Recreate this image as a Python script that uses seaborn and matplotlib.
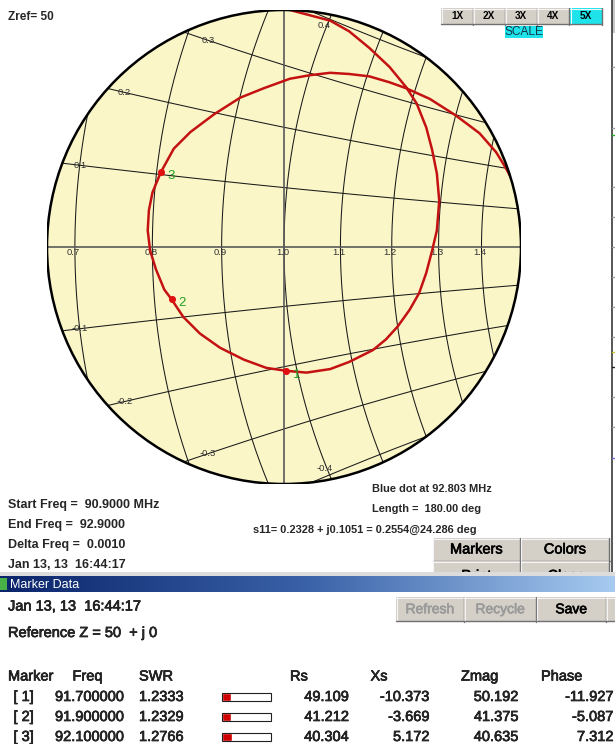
import numpy as np
import pandas as pd
import matplotlib
matplotlib.use("Agg")
import matplotlib.pyplot as plt
import matplotlib.patheffects as pe
import seaborn as sns
from matplotlib.patches import Circle, Rectangle
from matplotlib.colors import LinearSegmentedColormap

# sweep settings
z_ref = 50
start_freq = 90.9
end_freq = 92.9
delta_freq = 0.0010
timestamp = "Jan 13, 13  16:44:17"
zoom_levels = ["1X", "2X", "3X", "4X", "5X"]
active_zoom = "5X"

# marker table
marker_ids = [1, 2, 3]
marker_freq = [91.7, 91.9, 92.1]
marker_swr = [1.2333, 1.2329, 1.2766]
marker_rs = [49.109, 41.212, 40.304]
marker_xs = [-10.373, -3.669, 5.172]
marker_zmag = [50.192, 41.375, 40.635]
marker_phase = [-11.927, -5.087, 7.312]

# s11 trace (reflection coefficient)
gamma_re = [-0.020, 0.005, 0.039, 0.055, 0.072, 0.089, 0.103, 0.112, 0.120, 0.125,
            0.129, 0.131, 0.129, 0.125, 0.120, 0.114, 0.106, 0.096, 0.086, 0.075,
            0.055, 0.039, 0.019, 0.002, -0.015, -0.034, -0.054, -0.071, -0.085, -0.095,
            -0.101, -0.108, -0.113, -0.115, -0.114, -0.111, -0.104, -0.093, -0.079, -0.059,
            -0.037, -0.017, 0.005, 0.022, 0.039, 0.055, 0.072, 0.089, 0.103, 0.123,
            0.145, 0.165, 0.179, 0.187, 0.195]
gamma_im = [0.206, 0.200, 0.191, 0.182, 0.168, 0.152, 0.135, 0.121, 0.101, 0.082,
            0.062, 0.039, 0.014, -0.003, -0.022, -0.039, -0.053, -0.067, -0.078, -0.087,
            -0.097, -0.103, -0.106, -0.1045, -0.102, -0.095, -0.085, -0.073, -0.059, -0.044,
            -0.036, -0.019, -0.003, 0.014, 0.031, 0.046, 0.063, 0.083, 0.097, 0.112,
            0.126, 0.134, 0.142, 0.145, 0.147, 0.146, 0.144, 0.139, 0.134, 0.125,
            0.111, 0.096, 0.080, 0.067, 0.052]

# grid of the zoomed chart
r_circles = [0.7, 0.8, 0.9, 1.0, 1.1, 1.2, 1.3, 1.4]
x_arcs = [0.1, 0.2, 0.3, 0.4]
view_radius = 0.2

sns.set_theme(style="white")
plt.rcParams["font.family"] = ["Liberation Sans", "DejaVu Sans"]

W, H = 615, 744
fig = plt.figure(figsize=(W / 100, H / 100), dpi=100)
fig.patch.set_facecolor("white")

# pixel-space layer for the window furniture
ui = fig.add_axes([0, 0, 1, 1], zorder=0)
ui.set_axis_off()

# smith chart layer
ax = fig.add_axes([47 / W, (H - 484) / H, 474 / W, 474 / H], zorder=1)
ax.set_axis_off()
ax.patch.set_visible(False)

disc = Circle((0, 0), view_radius, facecolor="#FAF6C8", edgecolor="none", zorder=0)
ax.add_patch(disc)


def to_gamma(z):
    return (z - 1) / (z + 1)


grid_kw = dict(color="#1a1a1a", lw=0.75, zorder=1)
axis_kw = dict(color="#5a5a5a", lw=1.2, zorder=1)

t = np.linspace(-0.8, 0.8, 400)
for r in r_circles:
    g = to_gamma(r + 1j * t)
    ln, = ax.plot(g.real, g.imag, **grid_kw)
    ln.set_clip_path(disc)
    ax.annotate(f"{r:.1f}", (to_gamma(r), 0), xytext=(-1, -4.3), textcoords="offset points",
                ha="center", va="center", fontsize=6.8, color="#333333", zorder=2)

rr = np.linspace(0.3, 3.0, 600)
for x in x_arcs + [-v for v in x_arcs]:
    g = to_gamma(rr + 1j * x)
    ln, = ax.plot(g.real, g.imag, **grid_kw)
    ln.set_clip_path(disc)

# real and imaginary axes of the zoom window
ax.plot([-view_radius, view_radius], [0, 0], **axis_kw)
ax.plot([0, 0], [-view_radius, view_radius], **axis_kw)

label_r = {0.1: 0.70, 0.2: 0.74, 0.3: 0.83, 0.4: 0.99}
label_shift = {0.1: 0, 0.2: 0, 0.3: 0, 0.4: 6.5}
for x in x_arcs:
    for sgn, txt in [(1, f"{x:.1f}"), (-1, f"-{x:.1f}")]:
        g = to_gamma(label_r[x] + 1j * sgn * x)
        ax.annotate(txt, (g.real, g.imag), xytext=(0, -sgn * label_shift[x]),
                    textcoords="offset points", ha="center", va="center",
                    fontsize=6.8, color="#333333", zorder=2)

# s11 trace
trace = pd.DataFrame({"re": gamma_re, "im": gamma_im})
n_before = len(ax.lines)
sns.lineplot(data=trace, x="re", y="im", sort=False, estimator=None,
             color="#C41212", lw=1.8, ax=ax, zorder=3)
for ln in ax.lines[n_before:]:
    ln.set_clip_path(disc)

# markers
zm = (np.array(marker_rs) + 1j * np.array(marker_xs)) / z_ref
gm = to_gamma(zm)
mk = pd.DataFrame({"re": gm.real, "im": gm.imag})
sns.scatterplot(data=mk, x="re", y="im", color="#E01010", s=26, linewidth=0, ax=ax, zorder=4)
for mid, gre, gim in zip(marker_ids, gm.real, gm.imag):
    ax.annotate(str(mid), (gre, gim), xytext=(7.2, -2.9),
                textcoords="offset points", ha="center", va="center",
                fontsize=9.5, color="#22A022", zorder=5)

ax.add_patch(Circle((0, 0), view_radius, fill=False, edgecolor="black", lw=1.8, zorder=6))
ax.set_xlim(-view_radius, view_radius)
ax.set_ylim(-view_radius, view_radius)
ax.set_xlabel("")
ax.set_ylabel("")

# slightly heavier strokes, like the old bitmap UI font
heavy = [pe.withStroke(linewidth=0.45, foreground="black")]
heavy_grey = [pe.withStroke(linewidth=0.45, foreground="#9A9A9A")]


# window furniture
def button(x0, y0, x1, y1, label, face="#D4D0C8", color="black", size=10, weight="normal",
           ty=None, va="center", z=2, effects=None):
    ui.add_patch(Rectangle((x0, y0), x1 - x0, y1 - y0, facecolor=face, edgecolor="none", zorder=z))
    ui.plot([x0, x1], [y0 + 0.5, y0 + 0.5], color="#F4F4F4", lw=0.8, zorder=z)
    ui.plot([x0 + 0.5, x0 + 0.5], [y0, y1], color="#F4F4F4", lw=0.8, zorder=z)
    ui.plot([x0, x1], [y1 - 0.5, y1 - 0.5], color="#707070", lw=1.0, zorder=z)
    ui.plot([x1 - 0.5, x1 - 0.5], [y0, y1], color="#707070", lw=1.0, zorder=z)
    ui.text((x0 + x1) / 2, (y0 + y1) / 2 if ty is None else ty, label, ha="center", va=va,
            fontsize=size, color=color, weight=weight, zorder=z + 0.1, path_effects=effects)


ui.text(8, 17, f"Zref= {z_ref}", fontsize=8.5, weight="bold", va="center")

centers = [457, 489, 521, 553, 586]
for cx, lab in zip(centers, zoom_levels):
    face = "#1FE3EA" if lab == active_zoom else "#D4D0C8"
    button(cx - 16, 8, cx + 16, 24.5, lab, face=face, size=7.2, weight="bold")
ui.add_patch(Rectangle((505, 26), 38, 11.5, facecolor="#1FE3EA", edgecolor="none"))
ui.text(524, 32, "SCALE", ha="center", va="center", fontsize=8.6, color="#103848")

# right frame with tick marks
ui.plot([611.5, 611.5], [0, 572], color="#3a3a3a", lw=1.2)
ui.add_patch(Rectangle((612, 0), 3, 33, facecolor="#C8C8C8", edgecolor="none"))
for yt, ct in [(67, "#999999"), (128, "#999999"), (135, "#20B020"), (187, "#999999"),
               (217, "#999999"), (247, "#999999"), (277, "#999999"), (307, "#999999"),
               (337, "#999999"), (352, "#C8C820"), (367, "#222222"), (397, "#999999"),
               (427, "#999999"), (458, "#7070E0")]:
    ui.plot([612, 615], [yt, yt], color=ct, lw=1.0)

info_kw = dict(fontsize=9.0, weight="bold", va="center")
ui.text(8, 505, f"Start Freq =  {start_freq:.4f} MHz", **info_kw)
ui.text(8, 525, f"End Freq =  {end_freq:.4f}", **info_kw)
ui.text(8, 545, f"Delta Freq =  {delta_freq:.4f}", **info_kw)
ui.text(8, 565, timestamp, **info_kw)

small_kw = dict(fontsize=7.9, weight="bold", va="center")
ui.text(372, 489, "Blue dot at 92.803 MHz", **small_kw)
ui.text(372, 509, "Length =  180.00 deg", **small_kw)
ui.text(253, 530, "s11= 0.2328 + j0.1051 = 0.2554@24.286 deg", **small_kw)

button(432.5, 538, 520.5, 561, "Markers", size=10.5, effects=heavy)
button(520.5, 538, 609.5, 561, "Colors", size=10.5, effects=heavy)
button(432.5, 561, 520.5, 586, "Print", size=10.5, ty=569, va="top", effects=heavy)
button(520.5, 561, 609.5, 586, "Clear", size=10.5, ty=569, va="top", effects=heavy)

# marker data window
ui.add_patch(Rectangle((0, 572), W, 4.5, facecolor="#DCDCDC", edgecolor="none", zorder=5))
grad = LinearSegmentedColormap.from_list("titlebar", ["#0A246A", "#3A62A8", "#A6CAF0"])
ui.imshow(np.linspace(0, 1, 256)[None, :], cmap=grad, aspect="auto",
          extent=[0, W, 592, 576], zorder=6)
ui.add_patch(Rectangle((0, 578), 7, 12, facecolor="#48B048", edgecolor="none", zorder=7))
ui.text(10, 584.5, "Marker Data", color="white", fontsize=9, va="center", zorder=7)

tkw = dict(fontsize=10.5, va="center", path_effects=heavy)
ui.text(8, 606.5, timestamp, **tkw)
ui.text(8, 633, f"Reference Z = {z_ref}  + j 0", **tkw)

button(396, 597, 464, 621.5, "Refresh", color="#9A9A9A", size=10, effects=heavy_grey)
button(464, 597, 536.5, 621.5, "Recycle", color="#9A9A9A", size=10, effects=heavy_grey)
button(536.5, 597, 606, 621.5, "Save", size=10, effects=heavy)
button(606, 597, 630, 621.5, "")

hdr_y = 676.5
for xh, lab in [(8, "Marker"), (72.5, "Freq"), (139, "SWR"), (290, "Rs"),
                (370.5, "Xs"), (461, "Zmag"), (541, "Phase")]:
    ui.text(xh, hdr_y, lab, **tkw)

row_y = [697, 717, 737]
bar_frac = [1 - 1 / s for s in marker_swr]
ui.barh(row_y, [f * 49 for f in bar_frac], left=221.6, height=8, color="#D00000", zorder=3)
for i, y in enumerate(row_y):
    ui.add_patch(Rectangle((221.6, y - 4), 49, 8, facecolor="none", edgecolor="#202020",
                           lw=0.8, zorder=4))
    ui.text(13.5, y, f"[ {marker_ids[i]}]", **tkw)
    ui.text(55, y, f"{marker_freq[i]:.6f}", **tkw)
    ui.text(139, y, f"{marker_swr[i]:.4f}", **tkw)
    ui.text(349, y, f"{marker_rs[i]:.3f}", ha="right", **tkw)
    ui.text(429.5, y, f"{marker_xs[i]:.3f}", ha="right", **tkw)
    ui.text(518.5, y, f"{marker_zmag[i]:.3f}", ha="right", **tkw)
    ui.text(613.5, y, f"{marker_phase[i]:.3f}", ha="right", **tkw)

ui.set_xlim(0, W)
ui.set_ylim(H, 0)

fig.savefig("out.png", dpi=100)
